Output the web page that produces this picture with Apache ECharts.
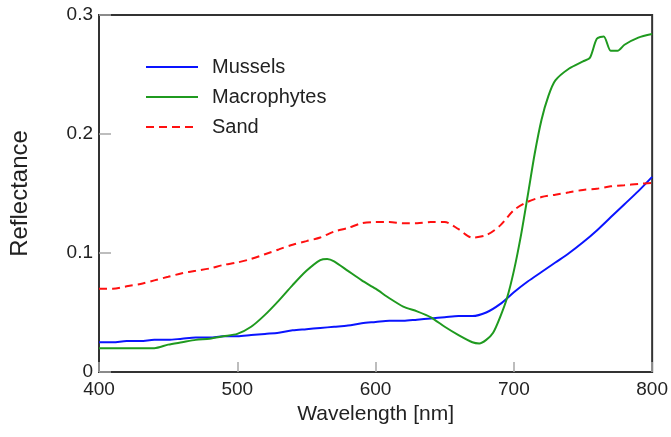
<!DOCTYPE html>
<html>
<head>
<meta charset="utf-8">
<script src="https://cdn.jsdelivr.net/npm/echarts@6/dist/echarts.min.js"></script>
<style>
  html, body { margin: 0; padding: 0; background: #fff; }
  #chart { width: 671px; height: 437px; }
</style>
</head>
<body>
<div id="chart"></div>
<script>
// wavelengths (nm) shared by mussels and sand
const wavelengths = [400, 410, 420, 430, 440, 450, 460, 470, 480, 490, 500, 510, 520, 530, 540, 550, 560, 570, 580, 590,
  600, 610, 620, 630, 640, 650, 660, 670, 680, 690, 700, 710, 720, 730, 740, 750, 760, 770, 780, 790, 800]
const mussels = [0.025, 0.025, 0.026, 0.026, 0.027, 0.027, 0.028, 0.029, 0.029, 0.030, 0.030, 0.031, 0.032, 0.033, 0.035, 0.036, 0.037, 0.038, 0.039, 0.041,
  0.042, 0.043, 0.043, 0.044, 0.045, 0.046, 0.047, 0.047, 0.050, 0.057, 0.067, 0.076, 0.084, 0.092, 0.100, 0.109, 0.119, 0.130, 0.141, 0.152, 0.164]
const sand = [0.070, 0.070, 0.072, 0.074, 0.077, 0.080, 0.083, 0.085, 0.087, 0.090, 0.092, 0.095, 0.099, 0.103, 0.107, 0.110, 0.113, 0.118, 0.121, 0.125,
  0.126, 0.126, 0.125, 0.125, 0.126, 0.126, 0.120, 0.113, 0.115, 0.123, 0.136, 0.143, 0.147, 0.149, 0.151, 0.153, 0.154, 0.156, 0.157, 0.158, 0.159]

// macrophytes sampled finer around the sharp features
const macroWavelengths = [400, 410, 420, 430, 440, 450, 460, 470, 480, 490, 500, 510, 520, 530, 540, 550, 560, 565, 570, 580,
  590, 600, 610, 620, 630, 640, 650, 660, 670, 675, 680, 685, 690, 695, 700, 705, 710, 715, 720, 725,
  730, 740, 750, 755, 760, 765, 770, 775, 780, 790, 800]
const macrophytes = [0.020, 0.020, 0.020, 0.020, 0.020, 0.023, 0.025, 0.027, 0.028, 0.030, 0.032, 0.038, 0.048, 0.060, 0.073, 0.085, 0.094, 0.095, 0.093, 0.085,
  0.077, 0.070, 0.062, 0.055, 0.051, 0.046, 0.038, 0.031, 0.025, 0.024, 0.027, 0.033, 0.046, 0.062, 0.085, 0.114, 0.148, 0.183, 0.212, 0.232,
  0.245, 0.255, 0.261, 0.264, 0.280, 0.282, 0.270, 0.270, 0.275, 0.281, 0.284]

const xTicks = { min: 400, max: 800, interval: 100 }
const yTicks = { min: 0, max: 0.3, interval: 0.1 }

function pairs(xs, ys) {
  return xs.map((x, i) => [x, ys[i]])
}

const chart = echarts.init(document.getElementById('chart'))
const font = 'Liberation Sans, Arial, sans-serif'
const tickGrey = '#a8a8a8'

chart.setOption({
  animation: false,
  grid: {
    left: 96, right: 17, top: 15, bottom: 65,
    show: true, borderColor: '#333', borderWidth: 2
  },
  legend: {
    orient: 'vertical',
    left: 145, top: 57, padding: 0,
    itemWidth: 52, itemHeight: 14, itemGap: 10,
    itemStyle: { opacity: 0 },
    textStyle: { fontFamily: font, fontSize: 20, color: '#222', lineHeight: 20, padding: [0, 0, 0, 9] },
    data: ['Mussels', 'Macrophytes', 'Sand']
  },
  xAxis: {
    type: 'value',
    min: xTicks.min, max: xTicks.max, interval: xTicks.interval,
    name: 'Wavelength [nm]',
    nameLocation: 'middle', nameGap: 23,
    nameTextStyle: { fontFamily: font, fontSize: 21, color: '#222' },
    axisLine: { show: false },
    axisTick: { show: true, inside: true, length: 10, lineStyle: { color: tickGrey, width: 1.5 } },
    axisLabel: { fontFamily: font, fontSize: 19, color: '#222', margin: 8 },
    splitLine: { show: false }
  },
  yAxis: {
    type: 'value',
    min: yTicks.min, max: yTicks.max, interval: yTicks.interval,
    name: 'Reflectance',
    nameLocation: 'middle', nameGap: 67,
    nameTextStyle: { fontFamily: font, fontSize: 24, color: '#222' },
    axisLine: { show: false },
    axisTick: { show: true, inside: true, length: 12, lineStyle: { color: tickGrey, width: 1.5 } },
    axisLabel: { fontFamily: font, fontSize: 19, color: '#222', margin: 6 },
    splitLine: { show: false }
  },
  series: [
    {
      name: 'Mussels', type: 'line', symbol: 'none', smooth: 0.3,
      data: pairs(wavelengths, mussels),
      lineStyle: { color: '#0a14ff', width: 2 }, itemStyle: { color: '#0a14ff' }
    },
    {
      name: 'Macrophytes', type: 'line', symbol: 'none', smooth: 0.25,
      data: pairs(macroWavelengths, macrophytes),
      lineStyle: { color: '#1f9a1f', width: 2 }, itemStyle: { color: '#1f9a1f' }
    },
    {
      name: 'Sand', type: 'line', symbol: 'none', smooth: 0.3,
      data: pairs(wavelengths, sand),
      lineStyle: { color: '#ff1010', width: 2, type: [8, 5] }, itemStyle: { color: '#ff1010' }
    }
  ]
})
</script>
</body>
</html>
